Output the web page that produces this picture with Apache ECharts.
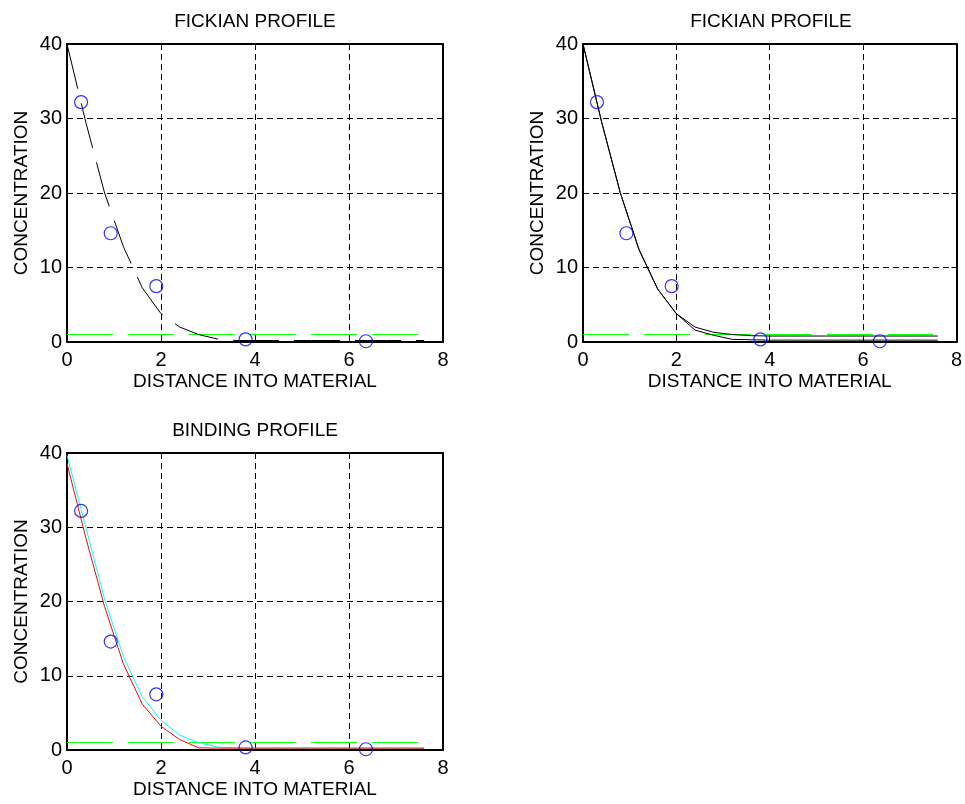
<!DOCTYPE html>
<html>
<head>
<meta charset="utf-8">
<script src="https://cdn.jsdelivr.net/npm/echarts@6/dist/echarts.min.js"></script>
<style>html,body{margin:0;padding:0;background:#fff}#c{width:965px;height:804px}</style>
</head>
<body>
<div id="c"></div>
<script>
// ---- data ----
const TITLES = ['FICKIAN PROFILE', 'FICKIAN PROFILE', 'BINDING PROFILE'];
const X_NAME = 'DISTANCE INTO MATERIAL';
const Y_NAME = 'CONCENTRATION';
const X_TICKS = [0, 2, 4, 6, 8];
const Y_TICKS = [0, 10, 20, 30, 40];

// measured points (blue circles)
const MEAS_X = [0.30, 0.93, 1.90, 3.80, 6.36];
const MEAS_Y = [32.2, 14.6, 7.5, 0.35, 0.1];

// reference level (green dashed)
const LEVEL_X = [0, 7.5];
const LEVEL_Y = [1, 1];

// model curves
const CURVE_X = [0, 0.4, 0.8, 1.2, 1.6, 2.0, 2.4, 2.8, 3.2, 3.6, 4.0, 4.4, 4.8, 5.2, 5.6, 6.0, 6.4, 6.8, 7.2, 7.6];
const TL_FICK = [40, 29.5, 20, 12.8, 7.3, 3.8, 2.0, 1.0, 0.4, 0.2, 0.2, 0.2, 0.2, 0.2, 0.2, 0.2, 0.2, 0.2, 0.2, 0.2];
const TR_UPPER = [40, 29.5, 20, 12.4, 7.1, 3.8, 2.0, 1.3, 1.0, 0.85, 0.8, 0.8, 0.8, 0.8, 0.8, 0.8, 0.8, 0.8, 0.8, 0.8];
const TR_LOWER = [40, 29.5, 20, 12.4, 7.1, 3.8, 1.6, 0.9, 0.35, 0.3, 0.25, 0.25, 0.25, 0.25, 0.25, 0.25, 0.25, 0.25, 0.25, 0.25];
const BOT_CYAN = [39.7, 30.0, 20.3, 12.6, 7.2, 4.0, 2.0, 1.0, 0.4, 0.3, 0.25, 0.25, 0.25, 0.25, 0.25, 0.25, 0.25, 0.25, 0.25, 0.25];
const BOT_RED = [38.6, 28.6, 19.3, 11.6, 6.2, 3.2, 1.4, 0.3, 0.25, 0.25, 0.25, 0.25, 0.25, 0.25, 0.25, 0.25, 0.25, 0.25, 0.25, 0.25];

// ---- layout ----
const FONT = "'Liberation Sans', Arial, sans-serif";
const GRIDS = [
  {left: 67, top: 44, width: 376, height: 298},
  {left: 583, top: 44, width: 376, height: 298},
  {left: 67, top: 453, width: 376, height: 297}
];
const pairs = (xs, ys) => xs.map((x, i) => [x, ys[i]]);
const DASH = [46, 15];

const option = {
  animation: false,
  backgroundColor: '#fff',
  title: GRIDS.map((g, i) => ({
    text: TITLES[i], left: g.left + g.width / 2, top: g.top - 32, textAlign: 'center', padding: 0,
    textStyle: {fontFamily: FONT, fontSize: 19, fontWeight: 'normal', color: '#000'}
  })),
  grid: GRIDS.map(g => Object.assign({containLabel: false}, g)),
  xAxis: [], yAxis: [], series: []
};

const axisLine = {show: true, onZero: false, lineStyle: {color: '#000', width: 2}};
GRIDS.forEach((g, i) => {
  option.xAxis.push({
    gridIndex: i, type: 'value', min: X_TICKS[0], max: X_TICKS[X_TICKS.length - 1], interval: 2,
    position: 'bottom', name: X_NAME, nameLocation: 'middle', nameGap: 30,
    nameTextStyle: {fontFamily: FONT, fontSize: 19, color: '#000'},
    axisLine, axisTick: {show: true, inside: true, length: 5, lineStyle: {color: '#000'}},
    axisLabel: {fontFamily: FONT, fontSize: 20, color: '#000', margin: 8},
    splitLine: {show: true, lineStyle: {color: '#000', width: 1, type: [6, 4]}}
  });
  option.xAxis.push({
    gridIndex: i, type: 'value', min: 0, max: 8, interval: 2, position: 'top',
    axisLine, axisTick: {show: true, inside: true, length: 5, lineStyle: {color: '#000'}},
    axisLabel: {show: false}, splitLine: {show: false}
  });
  option.yAxis.push({
    gridIndex: i, type: 'value', min: Y_TICKS[0], max: Y_TICKS[Y_TICKS.length - 1], interval: 10,
    position: 'left', name: Y_NAME, nameLocation: 'middle', nameGap: 36,
    nameTextStyle: {fontFamily: FONT, fontSize: 19, color: '#000'},
    axisLine, axisTick: {show: true, inside: true, length: 5, lineStyle: {color: '#000'}},
    axisLabel: {fontFamily: FONT, fontSize: 20, color: '#000', margin: 5},
    splitLine: {show: true, lineStyle: {color: '#000', width: 1, type: [6, 4]}}
  });
  option.yAxis.push({
    gridIndex: i, type: 'value', min: 0, max: 40, interval: 10, position: 'right',
    axisLine, axisTick: {show: true, inside: true, length: 5, lineStyle: {color: '#000'}},
    axisLabel: {show: false}, splitLine: {show: false}
  });
});

function line(gi, xs, ys, color, type, z) {
  return {
    type: 'line', xAxisIndex: gi * 2, yAxisIndex: gi * 2, data: pairs(xs, ys),
    symbol: 'none', showSymbol: false, silent: true, z: z || 2,
    lineStyle: {color, width: 1, type: type || 'solid'}
  };
}
function meas(gi) {
  return {
    type: 'scatter', xAxisIndex: gi * 2, yAxisIndex: gi * 2, data: pairs(MEAS_X, MEAS_Y),
    symbol: 'circle', symbolSize: 13, z: 5, silent: true,
    itemStyle: {color: 'rgba(0,0,0,0)', borderColor: '#0000ff', borderWidth: 1.2}
  };
}

// top-left
option.series.push(line(0, LEVEL_X, LEVEL_Y, '#00ff00', DASH, 3));
option.series.push(line(0, CURVE_X, TL_FICK, '#000', DASH, 4));
option.series.push(meas(0));
// top-right
option.series.push(line(1, LEVEL_X, LEVEL_Y, '#00ff00', DASH, 3));
option.series.push(line(1, CURVE_X, TR_UPPER, '#000', 'solid', 4));
option.series.push(line(1, CURVE_X, TR_LOWER, '#000', 'solid', 4));
option.series.push(meas(1));
// bottom
option.series.push(line(2, LEVEL_X, LEVEL_Y, '#00ff00', DASH, 3));
option.series.push(line(2, CURVE_X, BOT_CYAN, '#00ffff', 'solid', 4));
option.series.push(line(2, CURVE_X, BOT_RED, '#ff0000', 'solid', 4));
option.series.push(meas(2));

const chart = echarts.init(document.getElementById('c'), null, {renderer: 'canvas'});
chart.setOption(option);
</script>
</body>
</html>
